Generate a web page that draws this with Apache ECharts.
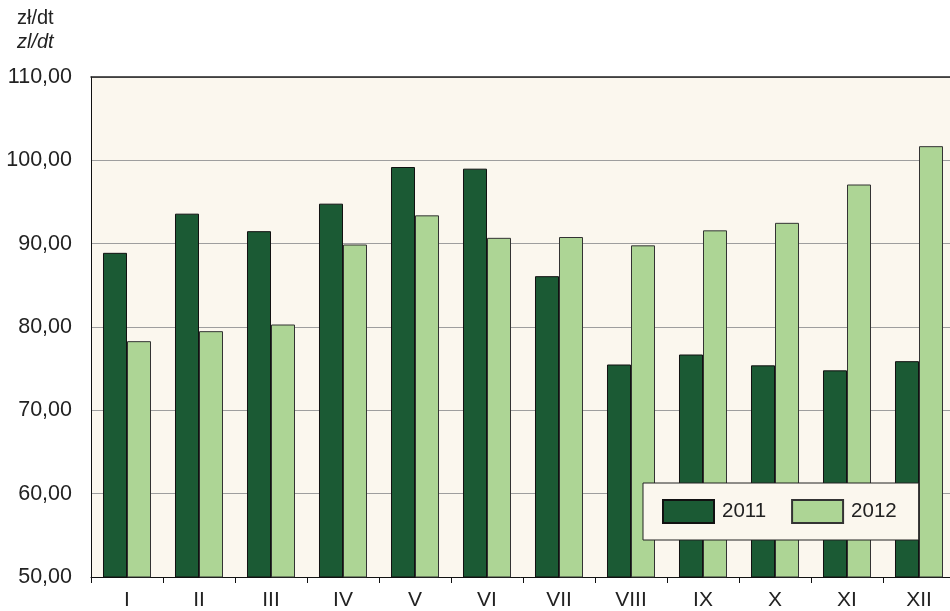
<!DOCTYPE html>
<html>
<head>
<meta charset="utf-8">
<script src="https://cdn.jsdelivr.net/npm/echarts@6/dist/echarts.min.js"></script>
<style>
  html, body { margin: 0; padding: 0; background: #fff; }
  #chart { width: 950px; height: 611px; }
</style>
</head>
<body>
<div id="chart"></div>
<script>
// miesiące
var months = ['I', 'II', 'III', 'IV', 'V', 'VI', 'VII', 'VIII', 'IX', 'X', 'XI', 'XII'];
// ceny zł/dt
var values2011 = [88.9, 93.6, 91.5, 94.8, 99.2, 99.0, 86.1, 75.5, 76.7, 75.4, 74.8, 75.9];
var values2012 = [78.3, 79.5, 80.3, 89.9, 93.4, 90.7, 90.8, 89.8, 91.6, 92.5, 97.1, 101.7];
var seriesNames = ['2011', '2012'];

var fontFam = 'Liberation Sans, Arial, sans-serif';

var option = {
  backgroundColor: '#ffffff',
  animation: false,
  textStyle: { fontFamily: fontFam },
  graphic: [{
    type: 'text', left: 17, top: 8,
    style: { text: 'zł/dt', font: '20px ' + fontFam, fill: '#222' }
  }, {
    type: 'text', left: 17, top: 32,
    style: { text: 'zl/dt', font: 'italic 20px ' + fontFam, fill: '#222' }
  }],
  grid: {
    left: 91, top: 77, width: 864, bottom: 34,
    outerBoundsMode: 'none',
    containLabel: false,
    show: true,
    backgroundColor: '#FBF7EE',
    borderWidth: 0
  },
  legend: {
    data: seriesNames,
    left: 643, top: 483,
    width: 275,
    padding: [16, 22, 16, 19],
    itemGap: 25,
    itemWidth: 51,
    itemHeight: 23,
    backgroundColor: '#FBF7EE',
    borderColor: '#222',
    borderWidth: 1,
    borderRadius: 0,
    icon: 'rect',
    textStyle: { fontSize: 20.5, color: '#222', padding: [0, 0, 0, 3] }
  },
  xAxis: [{
    type: 'category',
    data: months,
    axisLine: { lineStyle: { color: '#111', width: 1 } },
    axisTick: { show: true, length: 6, lineStyle: { color: '#111' } },
    axisLabel: { fontSize: 21, color: '#222', margin: 13 },
    splitLine: { show: false }
  }, {
    type: 'category',
    position: 'top',
    data: months,
    axisLine: { show: true, lineStyle: { color: '#222', width: 1.5 } },
    axisTick: { show: false },
    axisLabel: { show: false }
  }],
  yAxis: {
    type: 'value',
    min: 50, max: 110, interval: 10,
    axisLine: { show: true, lineStyle: { color: '#111', width: 1 } },
    axisTick: { show: false },
    axisLabel: {
      fontSize: 21.5, color: '#222', margin: 19,
      formatter: function (v) { return v.toFixed(2).replace('.', ','); }
    },
    splitLine: { show: true, lineStyle: { color: '#9E9E9E', width: 1 } }
  },
  series: [{
    name: seriesNames[0],
    type: 'bar',
    data: values2011,
    barGap: '0%',
    barCategoryGap: '33.3%',
    itemStyle: { color: '#1B5A34', borderColor: '#111', borderWidth: 1 }
  }, {
    name: seriesNames[1],
    type: 'bar',
    data: values2012,
    itemStyle: { color: '#ADD595', borderColor: '#333', borderWidth: 1 }
  }]
};

var myChart = echarts.init(document.getElementById('chart'));
myChart.setOption(option);
</script>
</body>
</html>
